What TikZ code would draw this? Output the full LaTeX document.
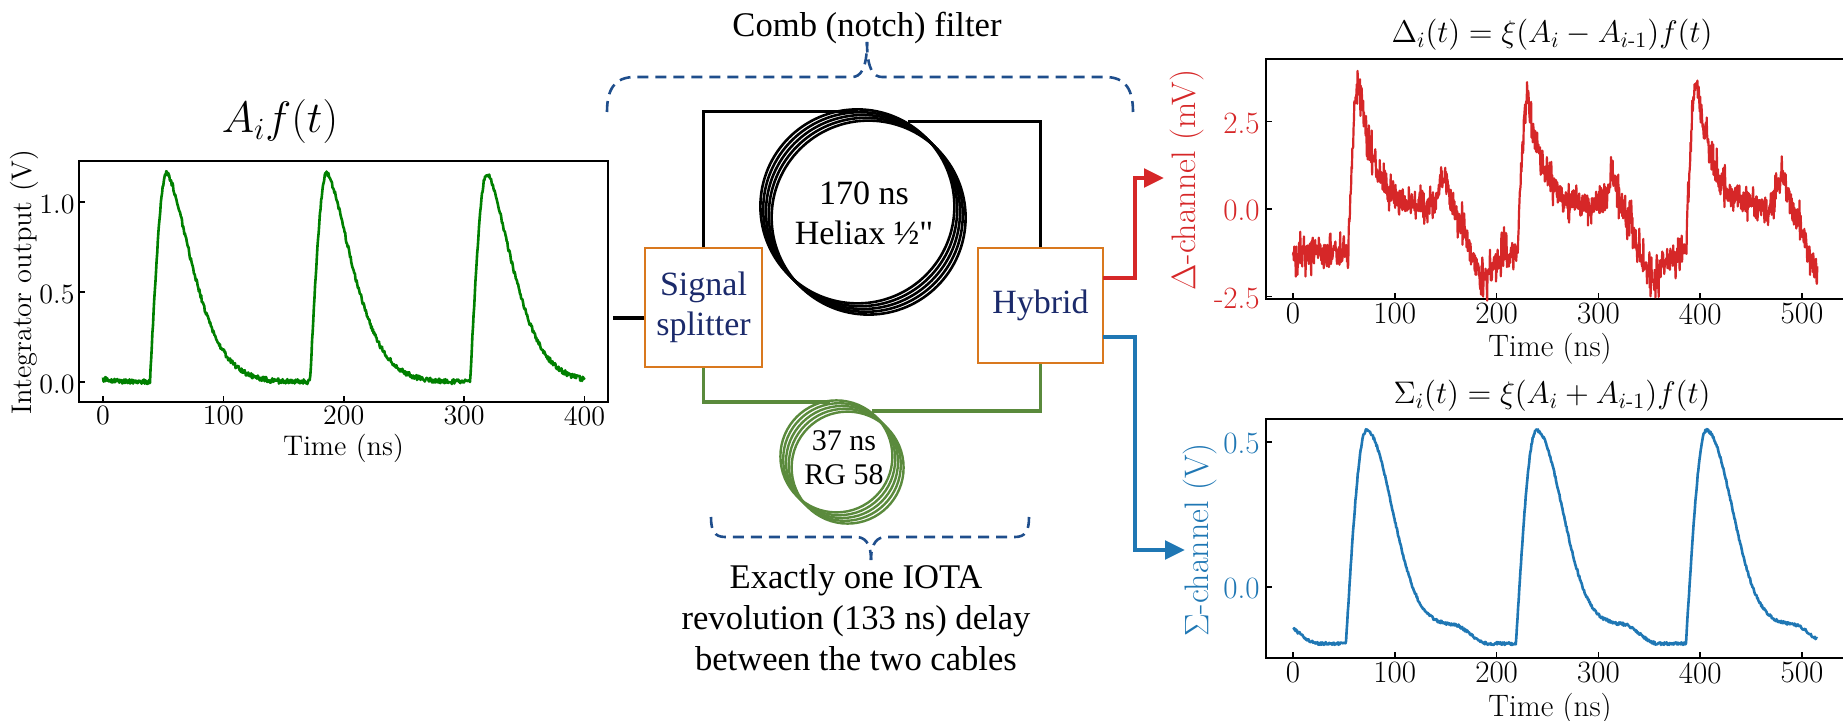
\documentclass[tikz,border=0pt]{standalone}
\usepackage{amsmath}
\usepackage{fix-cm}
\usepackage{fontspec}
\newfontfamily\labelfont{Liberation Serif}
\usetikzlibrary{arrows.meta, positioning}
\definecolor{cablegreen}{HTML}{5A8A3C}
\definecolor{boxorange}{HTML}{D9781E}
\definecolor{navytext}{HTML}{1B2A6B}
\definecolor{bracketblue}{HTML}{1F4E8C}
\definecolor{tracegreen}{HTML}{008000}
\definecolor{tracered}{HTML}{D62728}
\definecolor{traceblue}{HTML}{1F77B4}
\tikzset{%
	frame/.style={draw, rectangle, inner sep=0mm, line width=1pt},
	device/.style={draw=boxorange, rectangle, inner sep=0mm, line width=1.4pt,%
		align=center, text=navytext, font=\labelfont\fontsize{17}{20}\selectfont},
	caption/.style={inner sep=0mm, align=center, font=\labelfont\fontsize{17.3}{20.5}\selectfont},
	ticklabel/.style={inner sep=0mm, font=\fontsize{14}{16}\selectfont},
	bigtick/.style={inner sep=0mm, font=\fontsize{15.5}{18}\selectfont},
	axislabel/.style={inner sep=0mm, font=\fontsize{14.2}{16}\selectfont},
	bigaxis/.style={inner sep=0mm, font=\fontsize{17}{20}\selectfont},
	tick/.style={line width=0.8pt},
	bracket/.style={bracketblue, line width=1.3pt, dash pattern=on 5.5pt off 3.5pt},
	heliaxwire/.style={line width=1.3pt},
	rgwire/.style={cablegreen, line width=1.2pt},
	blackcable/.style={line width=1.5pt},
	greencable/.style={cablegreen, line width=1.6pt},
	output/.style={-{Triangle[length=10pt,width=9pt]}, line width=2.4pt},
	declare function={
		window(\x)=0.5+0.5*sin(90*max(-1,min(1,\x)));
		bump(\x)=exp(-min(9,(\x)*(\x)));
		inpulse(\u)=\u<14 ? 1.16*sin(90*\u/14) : 1.16*exp(-pow(max(\u-14,0.01)/30.5,1.5));
		sumpulse(\u)=\u<20 ? -0.195+0.735*sin(90*\u/20)
			: -0.13-0.065*window((\u-122)/18)+0.67*bump((\u-20)/35.6);
		deltapulse(\u,\a)=\u<11 ? -1.25+(\a+1.25)*sin(90*\u/11)
			: 0.05+(\a-0.05)*exp(-(\u-11)/15)+0.9*bump((\u-94)/6)
				-1.3*window((\u-115)/18)-0.75*bump((\u-133)/13);
	}
}
\begin{document}
\begin{tikzpicture}[x=0.5pt, y=-0.5pt]
	\useasboundingbox (0,0) rectangle (1843,721);
	\pgfmathsetseed{4217}

	% input plot
	\node[frame, minimum width=264.5pt, minimum height=120.5pt] (inframe) at (343.5,281.5) {};
	\node[inner sep=0mm, font=\fontsize{22}{25}\selectfont] (intitle) at (280,122) {$A_if(t)$};
	\node[axislabel, below=15.5pt of inframe] (inxlabel) {Time (ns)};
	\node[axislabel, rotate=90] (inylabel) at (24,282) {Integrator output (V)};
	\begin{scope}[shift={(103,382)}, x=0.6018pt, y=90pt]
		\foreach \t in {0,100,200,300,400} {
			\draw[tick] (\t,-0.111) -- ++(0,3pt);
			\node[ticklabel, anchor=north, yshift=-2pt] (intick\t) at (\t,-0.111) {\t};
		}
		\foreach \v in {0.0,0.5,1.0} {
			\draw[tick] (-20,\v) -- ++(3pt,0);
			\node[ticklabel, anchor=east, xshift=-2pt, yshift=-1pt] (inval\v) at (-20,\v) {\v};
		}
		\draw[tracegreen, line width=1.3pt, line join=round] plot[domain=0:400, samples=800]
			(\x, {inpulse(mod(\x+94,133))+0.014*rand});
	\end{scope}

	% comb filter
	\node[device, minimum width=58.5pt, minimum height=59.5pt] (splitter) at (703.5,307.5) {Signal\\splitter};
	\node[device, minimum width=62.5pt, minimum height=57.5pt] (hybrid) at (1040.5,305.5) {Hybrid};
	\node[caption, font=\labelfont\fontsize{17}{20}\selectfont] (heliaxtext) at (864,213) {170 ns\\Heliax ½"};
	\node[caption, font=\labelfont\fontsize{15}{17}\selectfont] (rgtext) at (844,458) {37 ns\\RG 58};
	\coordinate (heliaxin) at (858,112);
	\coordinate (heliaxout) at (908,122);
	\coordinate (rgin) at (830,402);
	\coordinate (rgout) at (872,411);
	\foreach \o in {-8,-4,0,4,8} {
		\draw[heliaxwire] (863,212) ++(0.7*\o,0.7*\o) circle[radius=97];
		\draw[rgwire] (842,462) ++(0.7*\o,0.7*\o) circle[radius=56];
	}
	\draw[blackcable] (splitter.north) |- (heliaxin);
	\draw[blackcable] (heliaxout) -| (hybrid.north);
	\draw[greencable] (splitter.south) |- (rgin);
	\draw[greencable] (rgout) -| (hybrid.south);
	\coordinate (instart) at (613,318);
	\draw[line width=2.2pt] (instart) -- (instart -| splitter.west);

	% brackets
	\node[caption] (combtext) at (867,28) {Comb (notch) filter};
	\coordinate (combleft) at (607,112);
	\coordinate (combright) at (1133,112);
	\coordinate (combtip) at (867,42);
	\draw[bracket] (combleft) .. controls (607,90) and (614,77) .. (635,77) -- (852,77)
		.. controls (860,77) and (867,70) .. (combtip);
	\draw[bracket] (combright) .. controls (1133,90) and (1126,77) .. (1105,77) -- (882,77)
		.. controls (874,77) and (867,70) .. (combtip);
	\node[caption] (delaytext) at (856,618) {Exactly one IOTA\\revolution (133 ns) delay\\between the two cables};
	\coordinate (delayleft) at (711,517);
	\coordinate (delayright) at (1029,517);
	\coordinate (delaytip) at (871,560);
	\draw[bracket] (delayleft) .. controls (711,530) and (714,537) .. (725,537) -- (856,537)
		.. controls (864,537) and (871,542) .. (delaytip);
	\draw[bracket] (delayright) .. controls (1029,530) and (1026,537) .. (1015,537) -- (886,537)
		.. controls (878,537) and (871,542) .. (delaytip);

	% outputs
	\coordinate (deltaout) at (1103,278);
	\coordinate (deltabend) at (1135,278);
	\coordinate (deltaend) at (1164,178);
	\coordinate (sumout) at (1103,337);
	\coordinate (sumbend) at (1135,337);
	\coordinate (sumend) at (1185,550);
	\draw[output, tracered] (deltaout) -- (deltabend) |- (deltaend);
	\draw[output, traceblue] (sumout) -- (sumbend) |- (sumend);

	% delta plot
	\node[frame, minimum width=292pt, minimum height=120pt] (deltaframe) at (1558,179) {};
	\node[inner sep=0mm, font=\fontsize{15.6}{18}\selectfont, above=3.5pt of deltaframe, xshift=-3pt] (deltatitle)
		{$\Delta_i(t)=\xi(A_i-A_{i\text{-}1})f(t)$};
	\node[axislabel, font=\fontsize{15.5}{18}\selectfont, below=16.5pt of deltaframe, xshift=-4pt] (deltaxlabel) {Time (ns)};
	\node[bigaxis, rotate=90, text=tracered] (deltaylabel) at (1187,180) {$\Delta$-channel (mV)};
	\begin{scope}[shift={(1293,209)}, x=0.509pt, y=17.5pt]
		\foreach \t in {0,100,200,300,400,500} {
			\draw[tick] (\t,-2.57) -- ++(0,3pt);
			\node[bigtick, anchor=north, yshift=-2pt] (deltatick\t) at (\t,-2.57) {\t};
		}
		\foreach \v/\s in {2.5/2.5,0.0/0.0,-2.5/-2.5} {
			\draw[tick] (-26.5,\v) -- ++(3pt,0);
			\node[bigtick, anchor=east, xshift=-3pt, yshift=-1pt, text=tracered] (deltaval\s) at (-26.5,\v) {\s};
		}
		\draw[tracered, line width=1.1pt, line join=round] plot[domain=0:515, samples=1300]
			(\x, {(\x<54 ? -1.25 : deltapulse(mod(\x+112,166), (\x<200 ? 3.6 : (\x<370 ? 3.1 : 3.6))))
				+0.3*rand+0.5*pow(rand,3)});
	\end{scope}

	% sum plot
	\node[frame, minimum width=292pt, minimum height=119.5pt] (sumframe) at (1558,538.5) {};
	\node[inner sep=0mm, font=\fontsize{15.6}{18}\selectfont, above=3pt of sumframe, xshift=-3pt] (sumtitle)
		{$\Sigma_i(t)=\xi(A_i+A_{i\text{-}1})f(t)$};
	\node[axislabel, font=\fontsize{15.5}{18}\selectfont, below=17pt of sumframe, xshift=-4pt] (sumxlabel) {Time (ns)};
	\node[bigaxis, rotate=90, text=traceblue] (sumylabel) at (1200,540) {$\Sigma$-channel (V)};
	\begin{scope}[shift={(1293,587)}, x=0.509pt, y=145pt]
		\foreach \t in {0,100,200,300,400,500} {
			\draw[tick] (\t,-0.245) -- ++(0,3pt);
			\node[bigtick, anchor=north, yshift=-2pt] (sumtick\t) at (\t,-0.245) {\t};
		}
		\foreach \v in {0.0,0.5} {
			\draw[tick] (-26.5,\v) -- ++(3pt,0);
			\node[bigtick, anchor=east, xshift=-3pt, yshift=-1pt, text=traceblue] (sumval\v) at (-26.5,\v) {\v};
		}
		\draw[traceblue, line width=1.3pt, line join=round] plot[domain=0:515, samples=900]
			(\x, {sumpulse(mod(\x+115,167))+0.005*rand});
	\end{scope}
\end{tikzpicture}
\end{document}
